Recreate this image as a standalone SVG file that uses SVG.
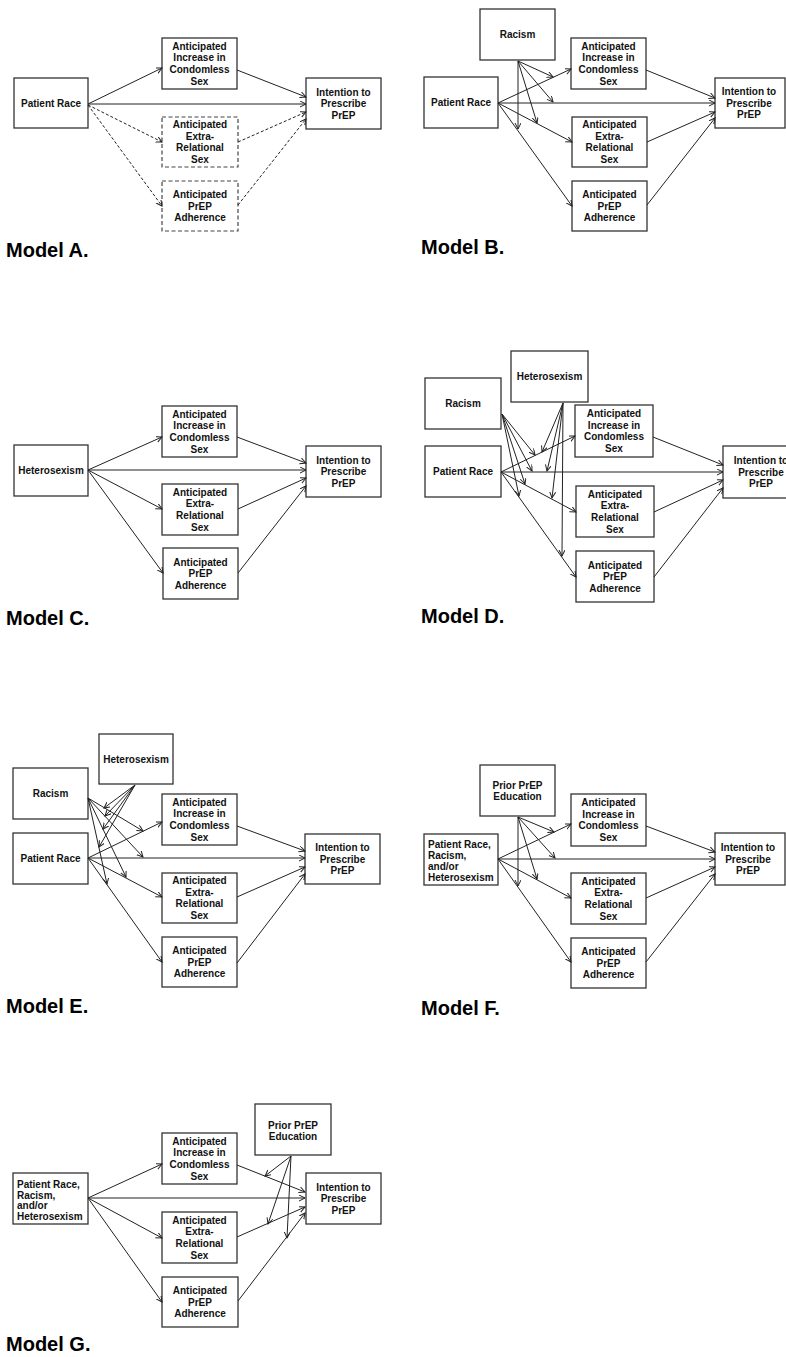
<svg xmlns="http://www.w3.org/2000/svg" width="786" height="1357" viewBox="0 0 786 1357">
<style>
.b{fill:#fff;stroke:#333;stroke-width:1.3}
.bd{fill:#fff;stroke:#444;stroke-width:1.2;stroke-dasharray:4 2.5}
.t{font-family:"Liberation Sans",Arial,sans-serif;font-weight:bold;font-size:10px;text-anchor:middle;fill:#111}
.tl{font-family:"Liberation Sans",Arial,sans-serif;font-weight:bold;font-size:10px;text-anchor:start;fill:#111}
.lab{font-family:"Liberation Sans",Arial,sans-serif;font-weight:bold;font-size:20px;fill:#000}
.c line{stroke:#222;stroke-width:1;fill:none;marker-end:url(#ah)}
.c line.d{stroke-dasharray:3 2}
</style>
<defs>
<marker id="ah" markerWidth="8" markerHeight="8" refX="6" refY="3" orient="auto" markerUnits="userSpaceOnUse">
<path d="M0,0 L6,3 L0,6" fill="none" stroke="#222" stroke-width="1"/>
</marker>
</defs>

<!-- ================= Model A ================= -->
<g id="A-race"><rect class="b" x="14" y="78" width="74" height="50"/><text class="t" x="51" y="106.6">Patient Race</text></g>
<g id="A-cond"><rect class="b" x="162" y="38" width="75" height="51"/><text class="t"><tspan x="199.5" y="49.7">Anticipated</tspan><tspan x="199.5" y="61.3">Increase in</tspan><tspan x="199.5" y="72.9">Condomless</tspan><tspan x="199.5" y="84.5">Sex</tspan></text></g>
<g id="A-int"><rect class="b" x="306" y="78" width="75" height="51"/><text class="t"><tspan x="343.5" y="95.5">Intention to</tspan><tspan x="343.5" y="107.1">Prescribe</tspan><tspan x="343.5" y="118.7">PrEP</tspan></text></g>
<g id="A-extra"><rect class="bd" x="162" y="117" width="76" height="50"/><text class="t"><tspan x="200" y="128.2">Anticipated</tspan><tspan x="200" y="139.8">Extra-</tspan><tspan x="200" y="151.4">Relational</tspan><tspan x="200" y="163">Sex</tspan></text></g>
<g id="A-adh"><rect class="bd" x="162" y="181" width="76" height="50"/><text class="t"><tspan x="200" y="198">Anticipated</tspan><tspan x="200" y="209.6">PrEP</tspan><tspan x="200" y="221.2">Adherence</tspan></text></g>
<text id="A-label" class="lab" x="6" y="257">Model A.</text>

<!-- ================= Model B ================= -->
<g id="B-racism"><rect class="b" x="480" y="9" width="75" height="51"/><text class="t" x="517.5" y="38.1">Racism</text></g>
<g id="B-race"><rect class="b" x="424" y="77" width="74" height="51"/><text class="t" x="461" y="106.1">Patient Race</text></g>
<g id="B-cond"><rect class="b" x="571" y="38" width="75" height="51"/><text class="t"><tspan x="608.5" y="49.7">Anticipated</tspan><tspan x="608.5" y="61.3">Increase in</tspan><tspan x="608.5" y="72.9">Condomless</tspan><tspan x="608.5" y="84.5">Sex</tspan></text></g>
<g id="B-int"><rect class="b" x="715" y="78" width="70" height="50"/><text class="t"><tspan x="749" y="95">Intention to</tspan><tspan x="749" y="106.6">Prescribe</tspan><tspan x="749" y="118.2">PrEP</tspan></text></g>
<g id="B-extra"><rect class="b" x="572" y="117" width="75" height="50"/><text class="t"><tspan x="609.5" y="128.2">Anticipated</tspan><tspan x="609.5" y="139.8">Extra-</tspan><tspan x="609.5" y="151.4">Relational</tspan><tspan x="609.5" y="163">Sex</tspan></text></g>
<g id="B-adh"><rect class="b" x="572" y="181" width="75" height="50"/><text class="t"><tspan x="609.5" y="198">Anticipated</tspan><tspan x="609.5" y="209.6">PrEP</tspan><tspan x="609.5" y="221.2">Adherence</tspan></text></g>
<text id="B-label" class="lab" x="421" y="254">Model B.</text>

<!-- ================= Model C ================= -->
<g id="C-het"><rect class="b" x="14" y="445" width="74" height="51"/><text class="t" x="51" y="474.1">Heterosexism</text></g>
<g id="C-cond"><rect class="b" x="162" y="406" width="75" height="51"/><text class="t"><tspan x="199.5" y="417.7">Anticipated</tspan><tspan x="199.5" y="429.3">Increase in</tspan><tspan x="199.5" y="440.9">Condomless</tspan><tspan x="199.5" y="452.5">Sex</tspan></text></g>
<g id="C-int"><rect class="b" x="306" y="446" width="75" height="51"/><text class="t"><tspan x="343.5" y="463.5">Intention to</tspan><tspan x="343.5" y="475.1">Prescribe</tspan><tspan x="343.5" y="486.7">PrEP</tspan></text></g>
<g id="C-extra"><rect class="b" x="162" y="484" width="76" height="51"/><text class="t"><tspan x="200" y="495.7">Anticipated</tspan><tspan x="200" y="507.3">Extra-</tspan><tspan x="200" y="518.9">Relational</tspan><tspan x="200" y="530.5">Sex</tspan></text></g>
<g id="C-adh"><rect class="b" x="163" y="548" width="75" height="51"/><text class="t"><tspan x="200.5" y="565.5">Anticipated</tspan><tspan x="200.5" y="577.1">PrEP</tspan><tspan x="200.5" y="588.7">Adherence</tspan></text></g>
<text id="C-label" class="lab" x="6" y="625">Model C.</text>

<!-- ================= Model D ================= -->
<g id="D-racism"><rect class="b" x="425" y="378" width="76" height="51"/><text class="t" x="463" y="407.1">Racism</text></g>
<g id="D-het"><rect class="b" x="511" y="351" width="77" height="51"/><text class="t" x="549.5" y="380.1">Heterosexism</text></g>
<g id="D-race"><rect class="b" x="425" y="446" width="76" height="51"/><text class="t" x="463" y="475.1">Patient Race</text></g>
<g id="D-cond"><rect class="b" x="575" y="405" width="78" height="52"/><text class="t"><tspan x="614" y="417.2">Anticipated</tspan><tspan x="614" y="428.8">Increase in</tspan><tspan x="614" y="440.4">Condomless</tspan><tspan x="614" y="452">Sex</tspan></text></g>
<g id="D-int"><rect class="b" x="723" y="446" width="76" height="52"/><text class="t"><tspan x="761" y="464">Intention to</tspan><tspan x="761" y="475.6">Prescribe</tspan><tspan x="761" y="487.2">PrEP</tspan></text></g>
<g id="D-extra"><rect class="b" x="576" y="486" width="78" height="51"/><text class="t"><tspan x="615" y="497.7">Anticipated</tspan><tspan x="615" y="509.3">Extra-</tspan><tspan x="615" y="520.9">Relational</tspan><tspan x="615" y="532.5">Sex</tspan></text></g>
<g id="D-adh"><rect class="b" x="576" y="551" width="78" height="51"/><text class="t"><tspan x="615" y="568.5">Anticipated</tspan><tspan x="615" y="580.1">PrEP</tspan><tspan x="615" y="591.7">Adherence</tspan></text></g>
<text id="D-label" class="lab" x="421" y="623">Model D.</text>

<!-- ================= Model E ================= -->
<g id="E-het"><rect class="b" x="99" y="734" width="74" height="50"/><text class="t" x="136" y="762.6">Heterosexism</text></g>
<g id="E-racism"><rect class="b" x="13" y="768" width="75" height="51"/><text class="t" x="50.5" y="797.1">Racism</text></g>
<g id="E-race"><rect class="b" x="13" y="833" width="75" height="51"/><text class="t" x="50.5" y="862.1">Patient Race</text></g>
<g id="E-cond"><rect class="b" x="162" y="794" width="75" height="51"/><text class="t"><tspan x="199.5" y="805.7">Anticipated</tspan><tspan x="199.5" y="817.3">Increase in</tspan><tspan x="199.5" y="828.9">Condomless</tspan><tspan x="199.5" y="840.5">Sex</tspan></text></g>
<g id="E-int"><rect class="b" x="305" y="834" width="75" height="50"/><text class="t"><tspan x="342.5" y="851">Intention to</tspan><tspan x="342.5" y="862.6">Prescribe</tspan><tspan x="342.5" y="874.2">PrEP</tspan></text></g>
<g id="E-extra"><rect class="b" x="162" y="873" width="75" height="50"/><text class="t"><tspan x="199.5" y="884.2">Anticipated</tspan><tspan x="199.5" y="895.8">Extra-</tspan><tspan x="199.5" y="907.4">Relational</tspan><tspan x="199.5" y="919">Sex</tspan></text></g>
<g id="E-adh"><rect class="b" x="162" y="937" width="75" height="50"/><text class="t"><tspan x="199.5" y="954">Anticipated</tspan><tspan x="199.5" y="965.6">PrEP</tspan><tspan x="199.5" y="977.2">Adherence</tspan></text></g>
<text id="E-label" class="lab" x="6" y="1013">Model E.</text>

<!-- ================= Model F ================= -->
<g id="F-prior"><rect class="b" x="480" y="765" width="75" height="51"/><text class="t"><tspan x="517.5" y="788.5">Prior PrEP</tspan><tspan x="517.5" y="800.1">Education</tspan></text></g>
<g id="F-pred"><rect class="b" x="424" y="834" width="74" height="51"/><text class="tl"><tspan x="428" y="848">Patient Race,</tspan><tspan x="428" y="859">Racism,</tspan><tspan x="428" y="870">and/or</tspan><tspan x="428" y="881">Heterosexism</tspan></text></g>
<g id="F-cond"><rect class="b" x="571" y="794" width="75" height="52"/><text class="t"><tspan x="608.5" y="806.2">Anticipated</tspan><tspan x="608.5" y="817.8">Increase in</tspan><tspan x="608.5" y="829.4">Condomless</tspan><tspan x="608.5" y="841">Sex</tspan></text></g>
<g id="F-int"><rect class="b" x="715" y="833" width="70" height="52"/><text class="t"><tspan x="748" y="851">Intention to</tspan><tspan x="748" y="862.6">Prescribe</tspan><tspan x="748" y="874.2">PrEP</tspan></text></g>
<g id="F-extra"><rect class="b" x="571" y="873" width="75" height="51"/><text class="t"><tspan x="608.5" y="884.7">Anticipated</tspan><tspan x="608.5" y="896.3">Extra-</tspan><tspan x="608.5" y="907.9">Relational</tspan><tspan x="608.5" y="919.5">Sex</tspan></text></g>
<g id="F-adh"><rect class="b" x="571" y="938" width="75" height="50"/><text class="t"><tspan x="608.5" y="955">Anticipated</tspan><tspan x="608.5" y="966.6">PrEP</tspan><tspan x="608.5" y="978.2">Adherence</tspan></text></g>
<text id="F-label" class="lab" x="421" y="1015">Model F.</text>

<!-- ================= Model G ================= -->
<g id="G-pred"><rect class="b" x="13" y="1173" width="75" height="51"/><text class="tl"><tspan x="17" y="1188">Patient Race,</tspan><tspan x="17" y="1198.7">Racism,</tspan><tspan x="17" y="1209.4">and/or</tspan><tspan x="17" y="1220">Heterosexism</tspan></text></g>
<g id="G-cond"><rect class="b" x="162" y="1133" width="75" height="51"/><text class="t"><tspan x="199.5" y="1144.7">Anticipated</tspan><tspan x="199.5" y="1156.3">Increase in</tspan><tspan x="199.5" y="1167.9">Condomless</tspan><tspan x="199.5" y="1179.5">Sex</tspan></text></g>
<g id="G-prior"><rect class="b" x="255" y="1104" width="76" height="51"/><text class="t"><tspan x="293" y="1129">Prior PrEP</tspan><tspan x="293" y="1140">Education</tspan></text></g>
<g id="G-int"><rect class="b" x="306" y="1173" width="75" height="51"/><text class="t"><tspan x="343.5" y="1190.5">Intention to</tspan><tspan x="343.5" y="1202.1">Prescribe</tspan><tspan x="343.5" y="1213.7">PrEP</tspan></text></g>
<g id="G-extra"><rect class="b" x="162" y="1212" width="75" height="51"/><text class="t"><tspan x="199.5" y="1223.7">Anticipated</tspan><tspan x="199.5" y="1235.3">Extra-</tspan><tspan x="199.5" y="1246.9">Relational</tspan><tspan x="199.5" y="1258.5">Sex</tspan></text></g>
<g id="G-adh"><rect class="b" x="162" y="1277" width="76" height="50"/><text class="t"><tspan x="200" y="1294">Anticipated</tspan><tspan x="200" y="1305.6">PrEP</tspan><tspan x="200" y="1317.2">Adherence</tspan></text></g>
<text id="G-label" class="lab" x="6" y="1351">Model G.</text>

<!-- ================= Connectors ================= -->
<g id="connectors" class="c">
<!-- A -->
<line x1="88" y1="104" x2="162" y2="68"/>
<line x1="88" y1="104" x2="306" y2="104"/>
<line x1="237" y1="70" x2="306" y2="97"/>
<line class="d" x1="88" y1="105" x2="162" y2="142"/>
<line class="d" x1="88" y1="105" x2="162" y2="206"/>
<line class="d" x1="238" y1="142" x2="306" y2="112"/>
<line class="d" x1="238" y1="205" x2="306" y2="119"/>
<!-- B -->
<line x1="498" y1="103" x2="571" y2="69"/>
<line x1="498" y1="103" x2="715" y2="103"/>
<line x1="498" y1="103" x2="572" y2="142"/>
<line x1="498" y1="103" x2="572" y2="206"/>
<line x1="646" y1="70" x2="715" y2="98"/>
<line x1="647" y1="142" x2="715" y2="112"/>
<line x1="647" y1="205" x2="715" y2="118"/>
<line x1="518" y1="61" x2="518" y2="129"/>
<line x1="518" y1="61" x2="553" y2="77"/>
<line x1="518" y1="61" x2="553" y2="102"/>
<line x1="518" y1="61" x2="537" y2="123"/>
<!-- C -->
<line x1="88" y1="470" x2="162" y2="437"/>
<line x1="88" y1="470" x2="306" y2="470"/>
<line x1="88" y1="470" x2="162" y2="509"/>
<line x1="88" y1="470" x2="163" y2="573"/>
<line x1="237" y1="437" x2="306" y2="463"/>
<line x1="238" y1="509" x2="306" y2="478"/>
<line x1="238" y1="573" x2="306" y2="486"/>
<!-- D -->
<line x1="501" y1="472" x2="575" y2="436"/>
<line x1="501" y1="472" x2="723" y2="472"/>
<line x1="501" y1="472" x2="576" y2="512"/>
<line x1="501" y1="472" x2="576" y2="577"/>
<line x1="653" y1="437" x2="723" y2="465"/>
<line x1="654" y1="512" x2="723" y2="480"/>
<line x1="654" y1="577" x2="723" y2="488"/>
<line x1="502" y1="414" x2="535" y2="455"/>
<line x1="502" y1="414" x2="532" y2="471"/>
<line x1="502" y1="414" x2="525" y2="484"/>
<line x1="502" y1="414" x2="519" y2="496"/>
<line x1="563" y1="403" x2="542" y2="452"/>
<line x1="563" y1="403" x2="547" y2="471"/>
<line x1="563" y1="403" x2="552" y2="498"/>
<line x1="563" y1="403" x2="562" y2="556"/>
<!-- E -->
<line x1="88" y1="858" x2="162" y2="822"/>
<line x1="88" y1="858" x2="305" y2="858"/>
<line x1="88" y1="858" x2="162" y2="897"/>
<line x1="88" y1="858" x2="162" y2="962"/>
<line x1="237" y1="826" x2="305" y2="851"/>
<line x1="237" y1="897" x2="305" y2="867"/>
<line x1="237" y1="963" x2="305" y2="874"/>
<line x1="88" y1="798" x2="143" y2="831"/>
<line x1="88" y1="798" x2="143" y2="857"/>
<line x1="88" y1="798" x2="126" y2="877"/>
<line x1="88" y1="798" x2="107" y2="884"/>
<line x1="135" y1="785" x2="104" y2="808"/>
<line x1="135" y1="785" x2="105" y2="816"/>
<line x1="135" y1="785" x2="103" y2="829"/>
<line x1="135" y1="785" x2="99" y2="847"/>
<!-- F -->
<line x1="498" y1="859" x2="571" y2="824"/>
<line x1="498" y1="859" x2="715" y2="859"/>
<line x1="498" y1="859" x2="571" y2="898"/>
<line x1="498" y1="859" x2="571" y2="962"/>
<line x1="646" y1="826" x2="715" y2="852"/>
<line x1="646" y1="898" x2="715" y2="867"/>
<line x1="646" y1="962" x2="715" y2="874"/>
<line x1="518" y1="817" x2="518" y2="886"/>
<line x1="518" y1="817" x2="554" y2="832"/>
<line x1="518" y1="817" x2="555" y2="858"/>
<line x1="518" y1="817" x2="537" y2="879"/>
<!-- G -->
<line x1="88" y1="1198" x2="162" y2="1164"/>
<line x1="88" y1="1198" x2="305" y2="1198"/>
<line x1="88" y1="1198" x2="162" y2="1238"/>
<line x1="88" y1="1198" x2="162" y2="1302"/>
<line x1="237" y1="1165" x2="305" y2="1192"/>
<line x1="237" y1="1237" x2="305" y2="1207"/>
<line x1="238" y1="1301" x2="305" y2="1213"/>
<line x1="291" y1="1156" x2="265" y2="1176"/>
<line x1="291" y1="1156" x2="268" y2="1224"/>
<line x1="291" y1="1156" x2="287" y2="1238"/>
</g>
</svg>
